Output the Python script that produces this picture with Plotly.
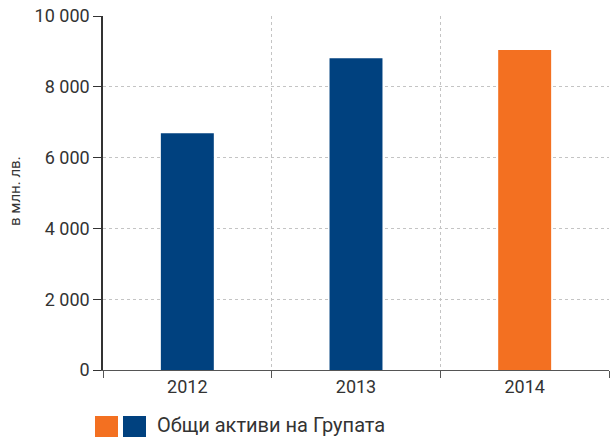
import plotly.graph_objects as go

years = ["2012", "2013", "2014"]
values = [6690, 8810, 9040]
colors = ["#00417f", "#00417f", "#f37021"]
y_tickvals = [0, 2000, 4000, 6000, 8000, 10000]
y_ticktext = ["0", "2 000", "4 000", "6 000", "8 000", "10 000"]
legend_label = "Общи активи на Групата"
y_title = "в млн. лв."

font = "Roboto, 'Open Sans', sans-serif"
fs = 18


def py(p):
    return (370 - p) / 354


def px(p):
    return (p - 103) / 506


fig = go.Figure(go.Bar(x=years, y=values, marker=dict(color=colors, line=dict(width=0)),
                       showlegend=False, hoverinfo="x+y"))

fig.update_layout(
    width=610, height=437,
    margin=dict(l=103, r=1, t=16, b=67),
    paper_bgcolor="white", plot_bgcolor="white",
    bargap=0.686,
    font=dict(family=font, size=fs, color="#333333"),
    xaxis=dict(type="category", tickson="boundaries", showgrid=True, gridcolor="#c4c4c4",
               griddash="dot", gridwidth=1, showline=True, linecolor="#555555", linewidth=1,
               ticks="outside", ticklen=7, tickcolor="#555555", automargin=False,
               tickfont=dict(size=fs, color="#333333")),
    yaxis=dict(range=[0, 10000], tickvals=y_tickvals, ticktext=y_ticktext, showgrid=True,
               gridcolor="#c4c4c4", griddash="dot", gridwidth=1, showline=True, linecolor="#333333",
               linewidth=1.5, ticks="outside", ticklen=8, tickcolor="#333333", zeroline=False,
               automargin=False, tickfont=dict(size=fs, color="#333333")),
    shapes=[
        dict(type="rect", xref="paper", yref="paper", x0=px(95), x1=px(118),
             y0=py(416), y1=py(437), fillcolor="#f37021", line=dict(width=0)),
        dict(type="rect", xref="paper", yref="paper", x0=px(123), x1=px(146),
             y0=py(416), y1=py(437), fillcolor="#00417f", line=dict(width=0)),
    ],
    annotations=[
        dict(text=legend_label, xref="paper", yref="paper", x=px(155), y=py(425),
             xanchor="left", yanchor="middle", showarrow=False,
             font=dict(size=20, color="#333333")),
        dict(text=y_title, xref="paper", yref="paper", x=px(15), y=py(191), textangle=-90,
             xanchor="center", yanchor="middle", showarrow=False,
             font=dict(size=15, color="#333333")),
    ],
)

fig.write_html("out.html", config={"displayModeBar": False},
               post_script="document.body.style.margin='0';document.body.style.overflow='hidden';")
